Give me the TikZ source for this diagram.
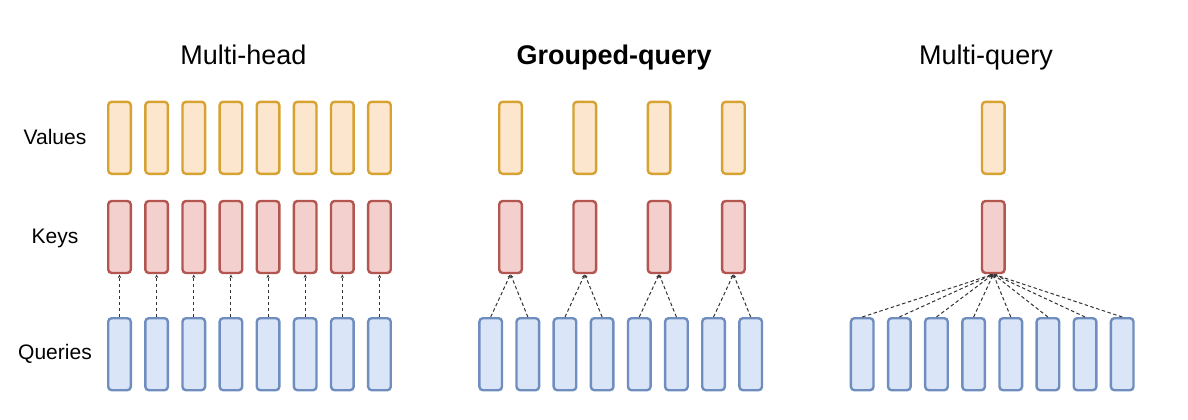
\documentclass[tikz,border=0pt]{standalone}
\usepackage{fontspec}
\setmainfont{Liberation Sans}
\usetikzlibrary{arrows.meta}
\definecolor{vfill}{HTML}{FCE6CE}
\definecolor{vdraw}{HTML}{D6A231}
\definecolor{kfill}{HTML}{F3CFCD}
\definecolor{kdraw}{HTML}{B35650}
\definecolor{qfill}{HTML}{DAE6F8}
\definecolor{qdraw}{HTML}{6F8DBF}
\definecolor{lnk}{HTML}{333333}
\tikzset{
  head/.style={rectangle, rounded corners=3.5pt, line width=2.4pt, minimum width=22.6pt, minimum height=72pt, inner sep=0pt},
  valbox/.style={head, fill=vfill, draw=vdraw},
  keybox/.style={head, fill=kfill, draw=kdraw},
  qrybox/.style={head, fill=qfill, draw=qdraw},
  link/.style={draw=lnk, line width=1pt, dash pattern=on 3.5pt off 2.5pt, -{Stealth[length=3.5pt,width=3.2pt]}, shorten >=0.3pt},
  title/.style={anchor=base, font=\fontsize{27}{30}\selectfont, inner sep=0pt},
  rowlab/.style={anchor=base, font=\fontsize{21}{24}\selectfont, inner sep=0pt}
}
\begin{document}
\begin{tikzpicture}[x=1pt,y=-1pt]
\useasboundingbox (0,0) rectangle (1188,420);
% titles
\node[title] (t1) at (243.3,65) {Multi-head};
\node[title, font=\fontsize{27}{30}\selectfont\bfseries] (t2) at (614.2,64.5) {Grouped-query};
\node[title] (t3) at (986,65) {Multi-query};
% row labels
\node[rowlab] (lv) at (55,144.3) {Values};
\node[rowlab] (lk) at (55,243.3) {Keys};
\node[rowlab] (lq) at (55,359) {Queries};
% multi-head
\foreach \i in {0,...,7} {
  \node[valbox] (mhv\i) at ({119.5+37.14*\i},137.8) {};
  \node[keybox] (mhk\i) at ({119.5+37.14*\i},237) {};
  \node[qrybox] (mhq\i) at ({119.5+37.14*\i},354.2) {};
  \draw[link] (mhq\i.north) -- (mhk\i.south);
}
% grouped-query
\foreach \j in {0,...,3} {
  \node[valbox] (gqv\j) at ({510.5+74.3*\j},137.8) {};
  \node[keybox] (gqk\j) at ({510.5+74.3*\j},237) {};
}
\foreach \i in {0,...,7} {
  \node[qrybox] (gqq\i) at ({490.7+37.14*\i},354.2) {};
}
\foreach \i in {0,...,7} {
  \pgfmathtruncatemacro{\g}{int(\i/2)}
  \draw[link] (gqq\i.north) -- (gqk\g.south);
}
% multi-query
\node[valbox] (mqv) at (993.3,137.8) {};
\node[keybox] (mqk) at (993.3,237) {};
\foreach \i in {0,...,7} {
  \node[qrybox] (mqq\i) at ({862.2+37.14*\i},354.2) {};
  \draw[link] (mqq\i.north) -- (mqk.south);
}
\end{tikzpicture}
\end{document}
